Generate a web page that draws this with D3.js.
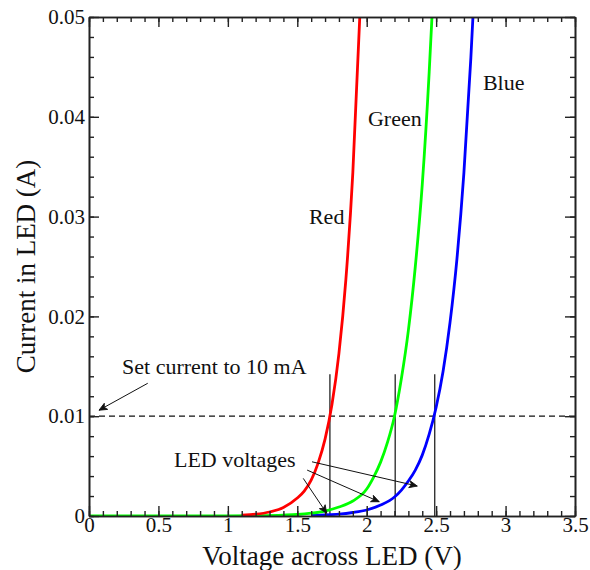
<!DOCTYPE html>
<html>
<head>
<meta charset="utf-8">
<script src="https://cdn.jsdelivr.net/npm/d3@7"></script>
<style>
  body { margin: 0; background: #fff; }
  text { font-family: "Liberation Serif", "Times New Roman", serif; fill: #111; }
</style>
</head>
<body>
<div id="wrapper"></div>
<script>
// 1. Data (voltage in V, current in A)

const redV = [1.1, 1.2, 1.3, 1.4, 1.5, 1.55, 1.6, 1.65, 1.7, 1.75, 1.8, 1.85, 1.9, 1.95]
const redI = [0.00009, 0.00018, 0.00040, 0.00085, 0.0018, 0.0025, 0.0036, 0.0053, 0.0077, 0.0112, 0.0163, 0.0237, 0.0344, 0.05]

const greenV = [0, 0.5, 1.0, 1.2, 1.4, 1.5, 1.6, 1.7, 1.8, 1.9, 2.0, 2.05, 2.1, 2.15, 2.2, 2.25, 2.3, 2.35, 2.4, 2.45, 2.47]
const greenI = [0, 0, 0.00001, 0.00003, 0.00009, 0.00015, 0.00028, 0.0005, 0.0009, 0.0015, 0.0027, 0.0039, 0.0054, 0.0074, 0.01, 0.0138, 0.0186, 0.025, 0.0332, 0.0445, 0.05]

const blueV = [1.6, 1.7, 1.8, 1.9, 2.0, 2.1, 2.2, 2.25, 2.3, 2.35, 2.4, 2.45, 2.5, 2.55, 2.6, 2.65, 2.7, 2.75, 2.765]
const blueI = [0.00006, 0.00011, 0.00019, 0.00035, 0.0006, 0.0011, 0.0019, 0.0026, 0.0035, 0.0046, 0.0061, 0.0082, 0.0109, 0.0145, 0.0194, 0.0258, 0.0344, 0.0459, 0.05]

const setCurrent = 0.01
const ledVoltages = [1.735, 2.205, 2.49]
const markerTop = 0.0142

const xTicks = [0, 0.5, 1, 1.5, 2, 2.5, 3, 3.5]
const xTickLabels = ["0", "0.5", "1", "1.5", "2", "2.5", "3", "3.5"]
const yTicks = [0, 0.01, 0.02, 0.03, 0.04, 0.05]
const yTickLabels = ["0", "0.01", "0.02", "0.03", "0.04", "0.05"]

// annotation texts and arrows, in data units
const curveLabels = [
  { text: "Red", v: 1.584, i: 0.0293 },
  { text: "Green", v: 2.009, i: 0.0391 },
  { text: "Blue", v: 2.837, i: 0.0427 },
  { text: "Set current to 10 mA", v: 0.238, i: 0.0142 },
  { text: "LED voltages", v: 0.612, i: 0.0049 },
]
const arrows = [
  { v1: 0.423, i1: 0.0133, v2: 0.072, i2: 0.0106 },
  { v1: 1.606, i1: 0.00543, v2: 2.364, i2: 0.0030 },
  { v1: 1.571, i1: 0.0046, v2: 2.09, i2: 0.00143 },
  { v1: 1.543, i1: 0.00377, v2: 1.712, i2: 0.00027 },
]

const series = [
  { name: "Blue", color: "#0000ff", values: blueV.map((v, k) => ({ v, i: blueI[k] })) },
  { name: "Green", color: "#00ff00", values: greenV.map((v, k) => ({ v, i: greenI[k] })) },
  { name: "Red", color: "#ff0000", values: redV.map((v, k) => ({ v, i: redI[k] })) },
]

// 2. Dimensions

let dimensions = {
  width: 590,
  height: 570,
  margin: { top: 17, right: 15, bottom: 54, left: 89 },
}
dimensions.boundedWidth = dimensions.width - dimensions.margin.left - dimensions.margin.right
dimensions.boundedHeight = dimensions.height - dimensions.margin.top - dimensions.margin.bottom

// 3. Canvas

const wrapper = d3.select("#wrapper")
  .append("svg")
  .attr("width", dimensions.width)
  .attr("height", dimensions.height)

wrapper.append("defs").append("clipPath")
  .attr("id", "plot-clip")
  .append("rect")
  .attr("width", dimensions.boundedWidth)
  .attr("height", dimensions.boundedHeight)

wrapper.select("defs").append("marker")
  .attr("id", "arrow")
  .attr("viewBox", "-10 -5 12 10")
  .attr("refX", 0)
  .attr("refY", 0)
  .attr("markerWidth", 12)
  .attr("markerHeight", 10)
  .attr("markerUnits", "userSpaceOnUse")
  .attr("orient", "auto")
  .append("path")
  .attr("d", "M-8,-3.5 L0,0 L-8,3.5 L-6,0 Z")
  .attr("fill", "#111")
  .attr("stroke", "#111")
  .attr("stroke-width", 0.8)

const bounds = wrapper.append("g")
  .attr("transform", `translate(${dimensions.margin.left},${dimensions.margin.top})`)

// 4. Scales

const xScale = d3.scaleLinear()
  .domain([0, 3.5])
  .range([0, dimensions.boundedWidth])

const yScale = d3.scaleLinear()
  .domain([0, 0.05])
  .range([dimensions.boundedHeight, 0])

const xMinor = d3.range(0, 36).map(d => d / 10)
const yMinor = d3.range(0, 26).map(d => d / 500)

// 5. Reference lines

bounds.append("line")
  .attr("x1", xScale(0))
  .attr("x2", xScale(3.5))
  .attr("y1", yScale(setCurrent))
  .attr("y2", yScale(setCurrent))
  .attr("stroke", "#111")
  .attr("stroke-width", 1.3)
  .attr("stroke-dasharray", "6,4")

bounds.selectAll(".vmark")
  .data(ledVoltages)
  .join("line")
  .attr("class", "vmark")
  .attr("x1", d => xScale(d))
  .attr("x2", d => xScale(d))
  .attr("y1", yScale(0))
  .attr("y2", yScale(markerTop))
  .attr("stroke", "#111")
  .attr("stroke-width", 1.2)

// 6. Curves

const lineGen = d3.line()
  .x(d => xScale(d.v))
  .y(d => yScale(d.i))
  .curve(d3.curveMonotoneX)

bounds.append("g")
  .attr("clip-path", "url(#plot-clip)")
  .selectAll("path")
  .data(series)
  .join("path")
  .attr("d", d => lineGen(d.values))
  .attr("fill", "none")
  .attr("stroke", d => d.color)
  .attr("stroke-width", 2.8)

// 7. Axes (ticks inside on all four sides)

function styleAxis(g) {
  g.select(".domain").attr("stroke", "#222").attr("stroke-width", 1.6)
  g.selectAll(".tick line").attr("stroke", "#222").attr("stroke-width", 1.4)
  g.selectAll(".tick text")
    .style("font-family", '"Liberation Serif", "Times New Roman", serif')
    .style("font-size", "21px")
    .attr("fill", "#111")
}

const axes = [
  { gen: d3.axisBottom, y: dimensions.boundedHeight, x: 0, scale: xScale, major: xTicks, minor: xMinor, labels: xTickLabels },
  { gen: d3.axisTop, y: 0, x: 0, scale: xScale, major: xTicks, minor: xMinor, labels: null },
  { gen: d3.axisLeft, y: 0, x: 0, scale: yScale, major: yTicks, minor: yMinor, labels: yTickLabels },
  { gen: d3.axisRight, y: 0, x: dimensions.boundedWidth, scale: yScale, major: yTicks, minor: yMinor, labels: null },
]

axes.forEach(a => {
  bounds.append("g")
    .attr("transform", `translate(${a.x},${a.y})`)
    .call(a.gen(a.scale).tickValues(a.minor).tickSize(-5).tickSizeOuter(0).tickFormat(""))
    .call(styleAxis)

  const pad = a.gen === d3.axisLeft ? 4 : 1
  bounds.append("g")
    .attr("transform", `translate(${a.x},${a.y})`)
    .call(a.gen(a.scale).tickValues(a.major).tickSize(-10).tickSizeOuter(0).tickPadding(pad)
      .tickFormat((d, k) => a.labels ? a.labels[k] : ""))
    .call(styleAxis)
})

// 8. Annotations

bounds.selectAll(".note")
  .data(curveLabels)
  .join("text")
  .attr("class", "note")
  .attr("x", d => xScale(d.v))
  .attr("y", d => yScale(d.i))
  .style("font-size", "22px")
  .text(d => d.text)

bounds.selectAll(".arrow")
  .data(arrows)
  .join("line")
  .attr("class", "arrow")
  .attr("x1", d => xScale(d.v1))
  .attr("y1", d => yScale(d.i1))
  .attr("x2", d => xScale(d.v2))
  .attr("y2", d => yScale(d.i2))
  .attr("stroke", "#111")
  .attr("stroke-width", 1)
  .attr("marker-end", "url(#arrow)")

// 9. Axis titles

wrapper.append("text")
  .attr("x", dimensions.margin.left + dimensions.boundedWidth / 2)
  .attr("y", 565)
  .attr("text-anchor", "middle")
  .style("font-size", "27px")
  .text("Voltage across LED (V)")

wrapper.append("text")
  .attr("transform", `translate(35,${dimensions.margin.top + dimensions.boundedHeight / 2}) rotate(-90)`)
  .attr("text-anchor", "middle")
  .style("font-size", "27px")
  .text("Current in LED (A)")
</script>
</body>
</html>
